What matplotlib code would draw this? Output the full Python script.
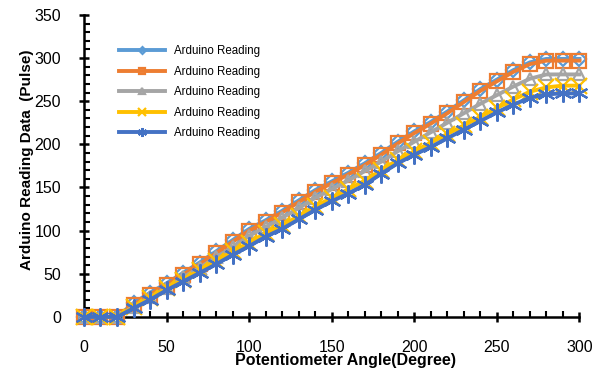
import matplotlib.pyplot as plt
from matplotlib.ticker import MultipleLocator

plt.rcParams['font.family'] = ['Liberation Sans', 'DejaVu Sans']

# Potentiometer angle (degrees)
angles = list(range(0, 301, 10))

# Arduino readings, one list per series
light_blue = [0, 0, 0, 16, 28, 39, 51, 63, 76, 89, 102, 112, 123, 135, 147, 157,
              167, 178, 190, 203, 215, 226, 238, 251, 264, 275, 286, 295, 299, 299, 299]
orange = [0, 0, 0, 14, 26, 37, 49, 61, 74, 87, 100, 110, 121, 133, 145, 155,
          165, 176, 188, 201, 213, 224, 236, 249, 262, 273, 284, 293, 297, 297, 297]
gray = [0, 0, 0, 12, 23, 34, 46, 57, 69, 81, 94, 104, 115, 126, 138, 148,
        158, 169, 180, 192, 203, 214, 225, 236, 247, 257, 267, 276, 281, 281, 281]
yellow = [0, 0, 0, 11, 22, 33, 43, 54, 65, 76, 86, 97, 106, 117, 128, 138,
          148, 158, 170, 182, 192, 202, 212, 222, 232, 242, 252, 261, 266, 268, 268]
dark_blue = [0, 0, 0, 10, 20, 31, 41, 51, 61, 72, 82, 93, 102, 113, 124, 134,
             143, 153, 166, 178, 188, 197, 207, 217, 227, 237, 246, 254, 258, 259, 259]

series = [light_blue, orange, gray, yellow, dark_blue]
colors = ['#5B9BD5', '#ED7D31', '#A5A5A5', '#FFC000', '#4472C4']
markers = ['D', 's', '^', 'x', (6, 2, 0)]
sizes = [7, 10, 8, 11, 13]
label = 'Arduino Reading'

fig = plt.figure(figsize=(6.02, 3.72), dpi=100)
ax = fig.add_axes([0.1395, 0.148, 0.823, 0.812])

for values, color, marker, size in zip(series, colors, markers, sizes):
    ax.plot(angles, values, color=color, linewidth=2.8, marker=marker,
            markersize=size, markerfacecolor='none', markeredgecolor=color,
            markeredgewidth=1.6, label=label, clip_on=False, zorder=3)

ax.set_xlim(0, 300)
ax.set_ylim(0, 350)

# Ticks: major crossing the axis, minor inside
ax.xaxis.set_major_locator(MultipleLocator(50))
ax.xaxis.set_minor_locator(MultipleLocator(10))
ax.yaxis.set_major_locator(MultipleLocator(50))
ax.yaxis.set_minor_locator(MultipleLocator(10))
ax.tick_params(which='major', direction='inout', length=7, width=1.8,
               labelsize=11.5, color='black')
ax.tick_params(which='minor', direction='in', length=4, width=1.5)
ax.tick_params(axis='x', which='major', pad=13)
ax.tick_params(axis='y', which='major', pad=13)

for side in ['left', 'bottom']:
    ax.spines[side].set_linewidth(1.8)
ax.spines['top'].set_visible(False)
ax.spines['right'].set_visible(False)

ax.set_xlabel('Potentiometer Angle(Degree)', fontsize=11.5, fontweight='bold')
ax.xaxis.set_label_coords(0.527, -0.12)
ax.set_ylabel('Arduino Reading Data  (Pulse)', fontsize=11, fontweight='bold')
ax.yaxis.set_label_coords(-0.1, 0.52)

legend = ax.legend(loc='upper left', bbox_to_anchor=(0.05, 0.935), frameon=False,
                   fontsize=8.3, markerscale=0.5, handlelength=4.0,
                   labelspacing=0.75)

fig.savefig('out.png', dpi=100)
